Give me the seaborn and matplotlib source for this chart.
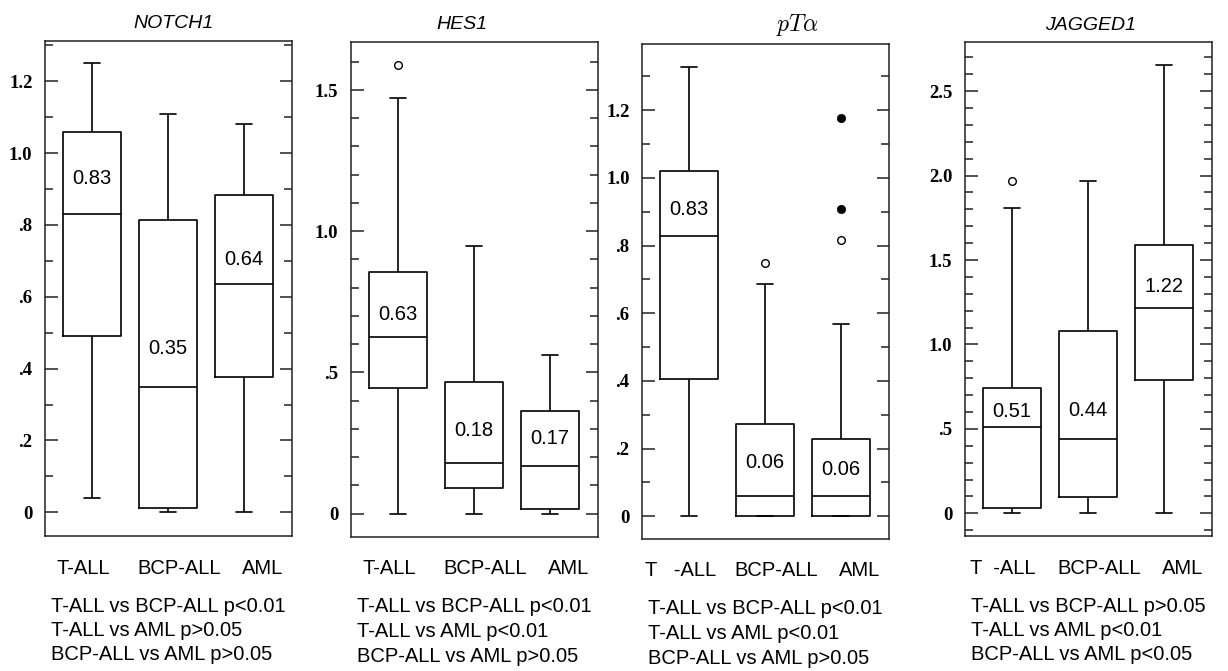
import numpy as np
import pandas as pd
import matplotlib
matplotlib.use("Agg")
import matplotlib.pyplot as plt
from matplotlib.ticker import MultipleLocator
import seaborn as sns

# --- datos ---
genes = ["NOTCH1", "HES1", "pTa", "JAGGED1"]
titles = ["NOTCH1", "HES1", r"$pT\alpha$", "JAGGED1"]
groups = ["T-ALL", "BCP-ALL", "AML"]
group_labels = [
    ["T-ALL", "BCP-ALL", "AML"],
    ["T-ALL", "BCP-ALL", "AML"],
    ["T   -ALL", "BCP-ALL", "AML"],
    ["T  -ALL", "BCP-ALL", "AML"],
]

# cinco numeros por gen (filas) y grupo (columnas)
whisker_lo = [[0.04, 0.00, 0.00], [0.00, 0.00, 0.00], [0.00, 0.00, 0.00], [0.00, 0.00, 0.00]]
q1 = [[0.49, 0.012, 0.377], [0.445, 0.091, 0.015], [0.406, 0.0, 0.0], [0.033, 0.096, 0.79]]
medians = [[0.83, 0.35, 0.636], [0.627, 0.179, 0.17], [0.83, 0.059, 0.059], [0.512, 0.44, 1.216]]
q3 = [[1.06, 0.815, 0.882], [0.855, 0.467, 0.364], [1.022, 0.273, 0.228], [0.745, 1.079, 1.591]]
whisker_hi = [[1.25, 1.11, 1.08], [1.47, 0.947, 0.561], [1.328, 0.687, 0.568], [1.808, 1.966, 2.655]]

outlier_gene = ["HES1", "pTa", "pTa", "pTa", "pTa", "JAGGED1"]
outlier_group = ["T-ALL", "BCP-ALL", "AML", "AML", "AML", "T-ALL"]
outlier_value = [1.588, 0.75, 0.818, 1.177, 0.909, 1.968]
outlier_filled = [False, False, False, True, True, False]

pvalue_lines = [
    ["T-ALL vs BCP-ALL p<0.01", "T-ALL vs AML p>0.05", "BCP-ALL vs AML p>0.05"],
    ["T-ALL vs BCP-ALL p<0.01", "T-ALL vs AML p<0.01", "BCP-ALL vs AML p>0.05"],
    ["T-ALL vs BCP-ALL p<0.01", "T-ALL vs AML p<0.01", "BCP-ALL vs AML p>0.05"],
    ["T-ALL vs BCP-ALL p>0.05", "T-ALL vs AML p<0.01", "BCP-ALL vs AML p<0.05"],
]

# --- layout (pixeles de la figura 1228x671) ---
W, H = 1228, 671
axes_px = [(45, 41, 292, 536), (351, 42, 598, 537), (642, 44, 889, 539), (965, 42, 1212, 536)]
ylims = [(-0.066, 1.312), (-0.083, 1.670), (-0.067, 1.396), (-0.134, 2.791)]
major_step = [0.2, 0.5, 0.2, 0.5]
major_top = [1.2, 1.5, 1.2, 2.5]
title_x = [0.52, 0.45, 0.63, 0.51]
title_size = [14, 14, 17, 14]
median_label_dy = [[36, 38, 24], [22, 33, 27], [26, 34, 27], [15, 29, 22]]
group_label_dx = [-9, 11, 18]

# tabla larga para seaborn
filas = []
for gi, gene in enumerate(genes):
    for ci, grp in enumerate(groups):
        for stat in (whisker_lo, q1, medians, q3, whisker_hi):
            filas.append({"gene": gene, "group": grp, "value": stat[gi][ci]})
df_box = pd.DataFrame(filas)
df_out = pd.DataFrame({"gene": outlier_gene, "group": outlier_group,
                       "value": outlier_value, "filled": outlier_filled})

sns.set_style("white")
plt.rcParams["font.family"] = ["Liberation Sans", "DejaVu Sans"]
plt.rcParams["mathtext.fontset"] = "cm"
plt.rcParams["text.color"] = "black"
plt.rcParams["xtick.color"] = "black"
plt.rcParams["ytick.color"] = "black"

fig = plt.figure(figsize=(W / 100, H / 100), dpi=100)


def fmt_tick(v):
    if abs(v) < 1e-9:
        return "0"
    s = f"{v:.1f}"
    return s[1:] if s.startswith("0.") else s


for i, gene in enumerate(genes):
    l, t, r, b = axes_px[i]
    ax = fig.add_axes([l / W, 1 - b / H, (r - l) / W, (b - t) / H])

    sub = df_box[df_box["gene"] == gene]
    sns.boxplot(data=sub, x="group", y="value", order=groups, whis=(0, 100),
                width=0.76, fill=False, color="black", linewidth=1.2,
                capwidths=0.21, ax=ax)

    out = df_out[df_out["gene"] == gene]
    abiertos = out[~out["filled"]]
    llenos = out[out["filled"]]
    if len(abiertos):
        sns.stripplot(data=abiertos, x="group", y="value", order=groups, jitter=False,
                      color="white", edgecolor="black", linewidth=1.0, size=5.5, ax=ax)
    if len(llenos):
        sns.stripplot(data=llenos, x="group", y="value", order=groups, jitter=False,
                      color="black", edgecolor="black", linewidth=0.5, size=6, ax=ax)

    # mediana como texto dentro de la caja
    for j, m in enumerate(medians[i]):
        ax.annotate(f"{m:.2f}", xy=(j, m), xytext=(0, median_label_dy[i][j]),
                    textcoords="offset pixels", ha="center", va="center",
                    fontsize=14.5, color="black")

    # ejes
    ax.set_xlim(-0.62, 2.63)
    ax.set_ylim(*ylims[i])
    ticks = np.arange(0, major_top[i] + 1e-6, major_step[i])
    ax.set_yticks(ticks, labels=[fmt_tick(v) for v in ticks],
                  fontfamily="Liberation Serif", fontweight="bold", fontsize=13.5,
                  color="black")
    ax.yaxis.set_minor_locator(MultipleLocator(0.1))
    ax.tick_params(axis="y", which="both", direction="in", left=True, right=True,
                   color="#222222", width=1.1)
    ax.tick_params(axis="y", which="major", length=9, pad=9)
    ax.tick_params(axis="y", which="minor", length=6)
    ax.set_xticks([])
    ax.set_xlabel("")
    ax.set_ylabel("")
    for sp in ax.spines.values():
        sp.set_visible(True)
        sp.set_color("#222222")
        sp.set_linewidth(1.1)

    ax.set_title(titles[i], fontstyle="italic", fontsize=title_size[i], pad=9,
                 x=title_x[i], color="black")

    # etiquetas de grupo bajo el eje
    for j, lab in enumerate(group_labels[i]):
        ax.annotate(lab, xy=(j, 0), xycoords=ax.get_xaxis_transform(),
                    xytext=(group_label_dx[j], -32), textcoords="offset pixels",
                    ha="center", va="center", fontsize=14.5, color="black")

    # comparaciones
    for k, linea in enumerate(pvalue_lines[i]):
        ax.annotate(linea, xy=(0.025, 0), xycoords="axes fraction",
                    xytext=(0, -70 - 24.5 * k), textcoords="offset pixels",
                    ha="left", va="center", fontsize=14.5, color="black")

fig.savefig("out.png", dpi=100)
